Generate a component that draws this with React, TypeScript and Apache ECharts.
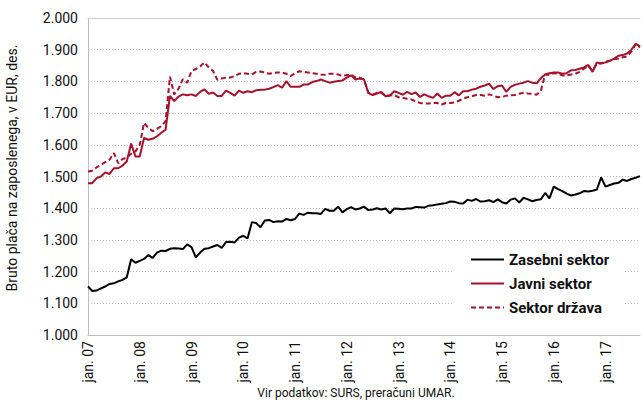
import React, { useEffect, useRef } from "react";
import * as echarts from "echarts";

const years = ["07", "08", "09", "10", "11", "12", "13", "14", "15", "16", "17"];
const monthNames = ["jan.", "feb.", "mar.", "apr.", "maj", "jun.", "jul.", "avg.", "sep.", "okt.", "nov.", "dec."];
const categories: string[] = [];
for (const y of years) for (const m of monthNames) categories.push(`${m} ${y}`);
const months = categories.slice(0, 129);

const zasebni = [
  1153, 1139, 1140, 1147, 1153, 1161, 1163, 1169, 1174, 1182, 1239, 1228,
  1234, 1240, 1252, 1243, 1260, 1266, 1265, 1272, 1274, 1273, 1271, 1286,
  1277, 1245, 1260, 1272, 1274, 1279, 1284, 1275, 1293, 1294, 1292, 1307,
  1313, 1305, 1356, 1353, 1340, 1361, 1363, 1356, 1359, 1358, 1366, 1362,
  1366, 1383, 1379, 1386, 1384, 1384, 1382, 1398, 1392, 1392, 1405, 1387,
  1397, 1403, 1396, 1399, 1405, 1394, 1396, 1400, 1396, 1399, 1384, 1399,
  1398, 1397, 1399, 1399, 1404, 1403, 1402, 1408, 1409, 1412, 1414, 1416,
  1421, 1420, 1416, 1415, 1427, 1423, 1429, 1421, 1422, 1425, 1419, 1428,
  1419, 1415, 1427, 1431, 1418, 1433, 1428, 1422, 1426, 1428, 1448, 1431,
  1468, 1460, 1454, 1446, 1440, 1443, 1447, 1454, 1453, 1455, 1459, 1497,
  1468, 1473, 1478, 1480, 1490, 1486, 1492, 1496, 1501,
];

const javni = [
  1479, 1479, 1495, 1500, 1513, 1508, 1526, 1526, 1534, 1548, 1604, 1563,
  1563, 1622, 1616, 1619, 1627, 1638, 1648, 1754, 1738, 1752, 1759, 1756,
  1759, 1754, 1767, 1775, 1761, 1765, 1754, 1754, 1771, 1764, 1755, 1771,
  1764, 1769, 1766, 1772, 1774, 1774, 1777, 1782, 1788, 1780, 1801, 1783,
  1783, 1783, 1790, 1790, 1798, 1801, 1806, 1801, 1796, 1799, 1801, 1803,
  1812, 1819, 1806, 1809, 1806, 1764, 1757, 1762, 1767, 1753, 1755, 1769,
  1764, 1758, 1767, 1760, 1765, 1751, 1759, 1753, 1748, 1762, 1748, 1755,
  1755, 1766, 1756, 1769, 1769, 1774, 1777, 1783, 1787, 1793, 1776, 1785,
  1787, 1767, 1783, 1789, 1793, 1796, 1801, 1796, 1794, 1810, 1822, 1826,
  1828, 1828, 1824, 1826, 1835, 1836, 1840, 1844, 1852, 1830, 1860, 1856,
  1860, 1865, 1872, 1881, 1883, 1888, 1900, 1918, 1911,
];

const drzava = [
  1516, 1518, 1529, 1537, 1545, 1553, 1574, 1542, 1555, 1560, 1572, 1579,
  1600, 1669, 1653, 1643, 1650, 1659, 1675, 1815, 1759, 1777, 1807, 1796,
  1833, 1839, 1847, 1860, 1844, 1833, 1805, 1809, 1812, 1812, 1817, 1824,
  1826, 1824, 1822, 1830, 1831, 1828, 1824, 1827, 1828, 1828, 1824, 1817,
  1826, 1832, 1830, 1828, 1826, 1824, 1822, 1821, 1824, 1824, 1822, 1817,
  1820, 1822, 1812, 1812, 1806, 1764, 1758, 1764, 1764, 1755, 1756, 1757,
  1750, 1748, 1745, 1743, 1737, 1732, 1730, 1730, 1732, 1732, 1727, 1732,
  1732, 1734, 1739, 1746, 1750, 1753, 1757, 1757, 1755, 1759, 1755, 1750,
  1751, 1755, 1756, 1757, 1761, 1764, 1762, 1761, 1758, 1770, 1822, 1820,
  1826, 1824, 1819, 1819, 1822, 1824, 1830, 1840, 1849, 1833, 1856, 1857,
  1862, 1865, 1870, 1872, 1876, 1879, 1894, 1918, 1907,
];

const seriesNames = ["Zasebni sektor", "Javni sektor", "Sektor država"];
const yAxisTitle = "Bruto plača na zaposlenega, v EUR, des.";
const sourceNote = "Vir podatkov: SURS, preračuni UMAR.";

const FONT = "Roboto, 'Noto Sans', sans-serif";
const RED = "#a8112b";

function fmt(v: number): string {
  const th = Math.floor(v / 1000);
  const rest = String(v % 1000).padStart(3, "0");
  return `${th}.${rest}`;
}

export default function App() {
  const ref = useRef<HTMLDivElement>(null);
  useEffect(() => {
    if (!ref.current) return;
    const chart = echarts.init(ref.current, undefined, { renderer: "svg" });
    chart.setOption({
      animation: false,
      backgroundColor: "#ffffff",
      textStyle: { fontFamily: FONT },
      grid: { left: 88, right: 2, top: 18, bottom: 66, containLabel: false },
      xAxis: [
        {
          type: "category",
          data: months,
          boundaryGap: false,
          axisLine: { show: true, lineStyle: { color: "#bfbfbf", width: 1 } },
          axisTick: { show: false },
          splitLine: { show: false },
          axisLabel: {
            interval: (idx: number) => idx % 12 === 0,
            rotate: 90,
            fontSize: 14,
            color: "#111",
            fontFamily: FONT,
            margin: 6,
          },
        },
        {
          type: "category",
          data: months,
          position: "top",
          boundaryGap: false,
          axisLine: { show: true, lineStyle: { color: "#cfcfcf", width: 1 } },
          axisTick: { show: false },
          axisLabel: { show: false },
          splitLine: { show: false },
        },
      ],
      yAxis: {
        type: "value",
        min: 1000,
        max: 2000,
        interval: 100,
        axisLine: { show: true, lineStyle: { color: "#bfbfbf", width: 1 } },
        axisTick: { show: false },
        axisLabel: {
          formatter: (v: number) => fmt(v),
          fontSize: 14,
          color: "#111",
          fontFamily: FONT,
          margin: 10,
        },
        splitLine: { show: true, lineStyle: { color: "#bdbdbd", type: [1, 2], width: 1 } },
      },
      legend: {
        orient: "vertical",
        left: 452,
        top: 249,
        backgroundColor: "#ffffff",
        padding: [3, 14, 6, 18],
        itemWidth: 33,
        itemHeight: 14,
        itemGap: 9,
        itemStyle: { opacity: 0, borderWidth: 0 },
        textStyle: { fontFamily: FONT, fontSize: 15, fontWeight: "bold", color: "#111" },
        data: seriesNames,
      },
      graphic: [
        {
          type: "text",
          x: 12,
          y: 168,
          rotation: Math.PI / 2,
          style: {
            text: yAxisTitle,
            fontFamily: FONT,
            fontSize: 14,
            fill: "#111",
            textAlign: "center",
            textVerticalAlign: "middle",
          },
        },
        {
          type: "text",
          x: 356,
          y: 393,
          style: {
            text: sourceNote,
            fontFamily: FONT,
            fontSize: 12,
            fill: "#111",
            textAlign: "center",
            textVerticalAlign: "middle",
          },
        },
      ],
      series: [
        {
          name: seriesNames[0],
          type: "line",
          data: zasebni,
          symbol: "none",
          lineStyle: { color: "#000000", width: 2 },
          itemStyle: { color: "#000000" },
        },
        {
          name: seriesNames[1],
          type: "line",
          data: javni,
          symbol: "none",
          lineStyle: { color: RED, width: 2 },
          itemStyle: { color: RED },
        },
        {
          name: seriesNames[2],
          type: "line",
          data: drzava,
          symbol: "none",
          lineStyle: { color: RED, width: 2, type: [5, 3] },
          itemStyle: { color: RED },
        },
      ],
    });
    return () => chart.dispose();
  }, []);
  return <div ref={ref} style={{ width: 642, height: 401, position: "absolute", left: 0, top: 0 }} />;
}
